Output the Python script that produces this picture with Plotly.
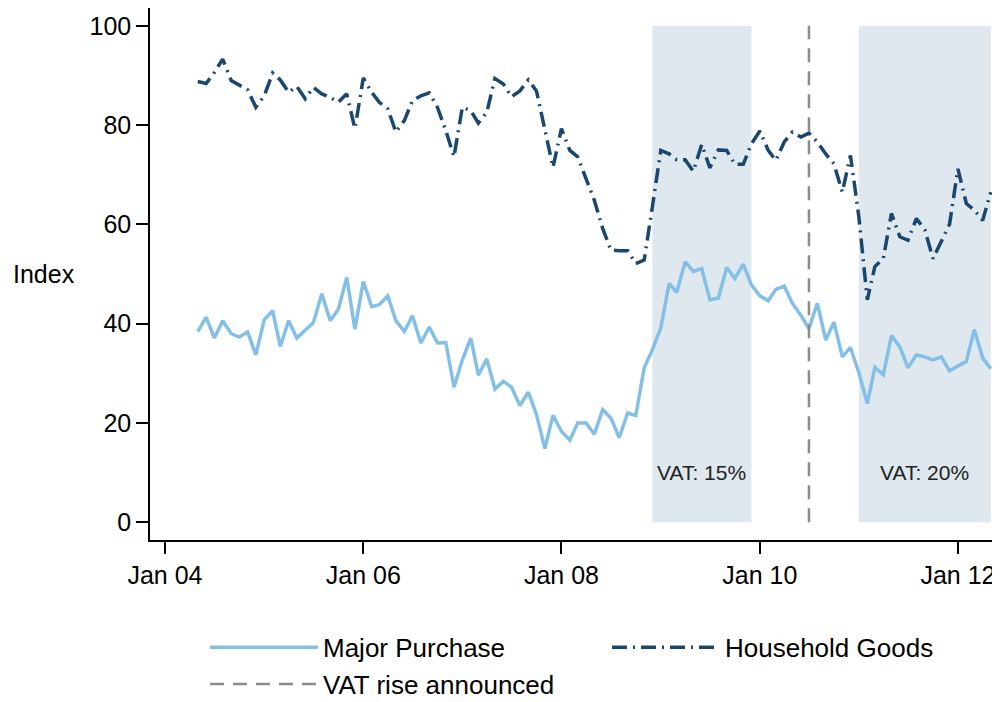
import pandas as pd
import plotly.graph_objects as go

# ---- data (monthly, May 2004 - May 2012) ----
start_month = "2004-05-01"

major_purchase = [
    38.4, 41.3, 37.1, 40.6, 38.0, 37.3, 38.3, 33.7,
    40.8, 42.6, 35.4, 40.6, 37.1, 38.6, 40.2, 46.0, 40.6, 42.9, 49.3, 38.9,
    48.5, 43.4, 43.8, 45.6, 40.6, 38.4, 41.6, 36.1, 39.3, 36.1, 36.2, 27.2,
    32.7, 37.1, 29.6, 32.9, 26.8, 28.4, 27.2, 23.5, 26.2, 21.7, 14.8, 21.5,
    18.3, 16.5, 20.0, 20.0, 17.7, 22.7, 21.0, 17.0, 22.0, 21.5, 31.1, 34.7,
    39.1, 48.1, 46.3, 52.5, 50.5, 51.1, 44.8, 45.1, 51.3, 49.1, 52.0, 47.8,
    45.6, 44.6, 46.9, 47.6, 44.1, 41.7, 39.0, 44.1, 36.7, 40.3, 33.3, 35.2,
    30.1, 23.9, 31.2, 29.7, 37.6, 35.3, 31.1, 33.7, 33.3, 32.7, 33.3, 30.5,
    31.5, 32.4, 38.8, 33.1, 30.9,
]

household_goods = [
    88.8, 88.4, 90.6, 93.3, 89.0, 88.0, 87.1, 83.6,
    85.9, 90.5, 89.1, 86.6, 87.8, 85.3, 87.6, 86.3, 85.6, 84.6, 86.3, 79.3,
    89.5, 86.6, 84.6, 83.3, 78.6, 80.9, 84.9, 85.9, 86.5, 83.6, 78.9, 73.6,
    83.6, 82.9, 80.4, 82.6, 89.4, 88.3, 85.7, 86.9, 89.1, 86.9, 79.3, 71.5,
    79.3, 74.9, 73.6, 69.2, 64.9, 59.2, 54.8, 54.7, 54.7, 52.1, 52.8, 63.5,
    74.9, 74.2, 73.0, 73.0, 70.7, 76.1, 71.4, 75.0, 74.9, 72.1, 72.1, 76.2,
    78.8, 74.9, 72.9, 76.6, 78.6, 77.6, 78.4, 76.6, 74.2, 72.2, 66.5, 73.9,
    61.5, 44.8, 51.5, 53.1, 62.2, 57.5, 56.8, 61.2, 58.9, 53.1, 56.8, 60.0,
    71.2, 64.2, 62.9, 60.8, 66.5,
]

vat_starts = ["2008-12-01", "2011-01-01"]
vat_ends = ["2009-12-01", "2012-05-01"]
vat_labels = ["VAT: 15%", "VAT: 20%"]
vat_band_low, vat_band_high = 0, 100
vat_label_level = 10

vat_announced = "2010-07-01"

y_ticks = [0, 20, 40, 60, 80, 100]

months = pd.date_range(start_month, periods=len(major_purchase), freq="MS")

# ---- figure ----
FONT = "Liberation Sans, Arial, sans-serif"
fig = go.Figure()

fig.add_trace(go.Scatter(
    x=months, y=major_purchase, mode="lines", name="Major Purchase",
    line=dict(color="#84BFE8", width=3.5), legend="legend",
))
fig.add_trace(go.Scatter(
    x=months, y=household_goods, mode="lines", name="Household Goods",
    line=dict(color="#1A476F", width=3.5, dash="15px,6px,2px,6px"),
    legend="legend2",
))
fig.add_trace(go.Scatter(
    x=[vat_announced, vat_announced], y=[vat_band_low, vat_band_high],
    mode="lines", name="VAT rise announced",
    line=dict(color="#8C8C8C", width=2.5, dash="14px,9px"), legend="legend",
))

for s, e, lab in zip(vat_starts, vat_ends, vat_labels):
    fig.add_shape(type="rect", xref="x", yref="y", x0=s, x1=e,
                  y0=vat_band_low, y1=vat_band_high,
                  fillcolor="#DEE8EE", line=dict(width=0), layer="below")
    mid = pd.Timestamp(s) + (pd.Timestamp(e) - pd.Timestamp(s)) / 2
    fig.add_annotation(x=mid, y=vat_label_level, xref="x", yref="y",
                       text=lab, showarrow=False,
                       font=dict(family=FONT, size=21, color="#222222"))

fig.add_annotation(x=-0.1247, y=0.5, xref="paper", yref="paper",
                   text="Index", showarrow=False, xanchor="center",
                   font=dict(family=FONT, size=25, color="black"))

axis_common = dict(
    showline=True, linecolor="black", linewidth=1.5,
    ticks="outside", ticklen=12, tickwidth=1.5, tickcolor="black",
    showgrid=False, zeroline=False, automargin=False,
    tickfont=dict(family=FONT, size=25, color="black"),
)

legend_common = dict(
    orientation="v", xanchor="left", yanchor="top",
    xref="container", yref="container", y=0.1227,
    itemwidth=108, font=dict(family=FONT, size=26, color="black"),
    bgcolor="rgba(0,0,0,0)", traceorder="normal",
)

fig.update_layout(
    width=1000, height=702,
    margin=dict(l=142, r=8, t=0, b=170, autoexpand=False),
    paper_bgcolor="white", plot_bgcolor="white",
    font=dict(family=FONT, color="black"),
    xaxis=dict(type="date", range=["2003-11-07", "2012-06-04"],
               tick0="2004-01-01", dtick="M24", tickformat="%b %y",
               **axis_common),
    yaxis=dict(range=[-3.6, 103.6], tickvals=y_ticks, **axis_common),
    showlegend=True,
    legend=dict(x=0.197, **legend_common),
    legend2=dict(x=0.599, **legend_common),
)

fig.write_html("out.html")
